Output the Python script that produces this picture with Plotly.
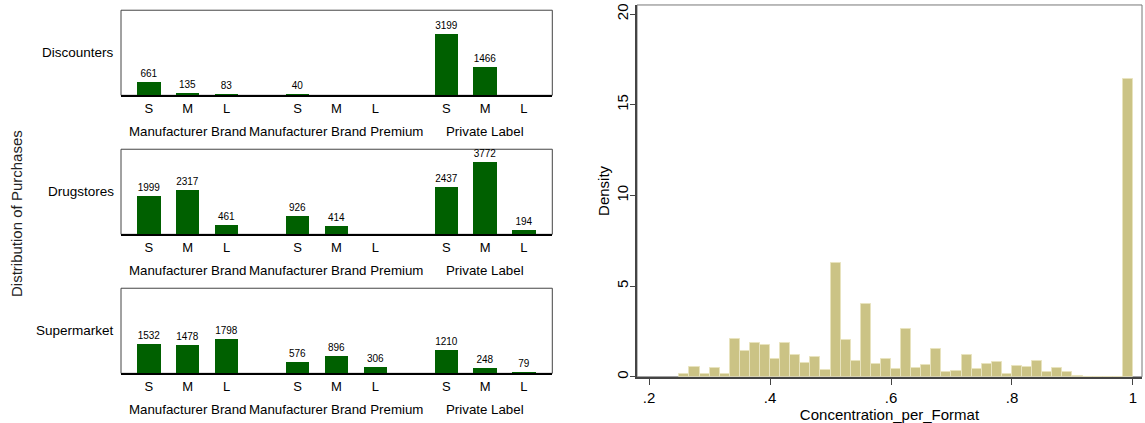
import plotly.graph_objects as go

# ---------------- data ----------------
formats = ["Discounters", "Drugstores", "Supermarket"]
brand_types = ["Manufacturer Brand", "Manufacturer Brand Premium", "Private Label"]
sizes = ["S", "M", "L"]

# values ordered brand type x size (S, M, L); None = no bar
discounters = [661, 135, 83, 40, None, None, 3199, 1466, None]
drugstores = [1999, 2317, 461, 926, 414, None, 2437, 3772, 194]
supermarket = [1532, 1478, 1798, 576, 896, 306, 1210, 248, 79]

density_bin_start = 0.25
density_bin_width = 1 / 60
density = [0.18, 0.57, 0.15, 0.49, 0.18, 2.10, 1.44, 1.84, 1.74, 0.97,
           1.84, 1.20, 0.77, 1.10, 0.38, 6.28, 2.05, 0.88, 4.00, 0.71,
           0.97, 0.42, 2.63, 0.47, 0.66, 1.53, 0.24, 0.33, 1.19, 0.42,
           0.73, 0.84, 0.13, 0.62, 0.55, 0.88, 0.27, 0.47, 0.24, 0.04,
           0, 0, 0, 0, 16.44]
hist_xticks = [0.2, 0.4, 0.6, 0.8, 1.0]
hist_xticktext = [".2", ".4", ".6", ".8", "1"]
hist_yticks = [0, 5, 10, 15, 20]

# ---------------- layout helpers ----------------
W, H = 1145, 423
FONT = "Liberation Sans, Arial, sans-serif"
GREEN = "#006000"
SAND = "#CBC385"
GROUP_STEP = 3.83


def px_x(p):
    return p / W


def px_y(p):
    return 1 - p / H


positions = [g * GROUP_STEP + s for g in range(len(brand_types)) for s in range(len(sizes))]
ticktexts = [sz for _ in brand_types for sz in sizes]
group_centers = [g * GROUP_STEP + 1 for g in range(len(brand_types))]

panel_rows = [(9.3, 95.0), (149.3, 235.0), (289.3, 375.0)]
panel_left, panel_right = 121.0, 552.3
series = [discounters, drugstores, supermarket]

fig = go.Figure()
shapes = []
annotations = []

for i, (vals, fmt, (top, bot)) in enumerate(zip(series, formats, panel_rows)):
    n = "" if i == 0 else str(i + 1)
    xa, ya = "x" + n, "y" + n
    fig.add_trace(go.Bar(
        x=positions, y=vals, width=0.6,
        marker=dict(color=GREEN, line=dict(width=0)),
        text=[("" if v is None else str(v)) for v in vals],
        textposition="outside", cliponaxis=False, constraintext="none",
        textfont=dict(family=FONT, size=10, color="#000"),
        xaxis=xa, yaxis=ya, showlegend=False, hoverinfo="skip",
    ))
    fig.layout["xaxis" + n] = dict(
        domain=[px_x(panel_left), px_x(panel_right)],
        range=[-0.72, 10.39], anchor=ya,
        tickvals=positions, ticktext=ticktexts, ticks="",
        tickfont=dict(family=FONT, size=13, color="#000"),
        showline=True, linecolor="#000", linewidth=2,
        showgrid=False, zeroline=False, fixedrange=True,
    )
    fig.layout["yaxis" + n] = dict(
        domain=[px_y(bot), px_y(top)], range=[0, 4450], anchor=xa,
        showticklabels=False, ticks="", showgrid=False, zeroline=False,
        showline=False, fixedrange=True,
    )
    shapes.append(dict(type="rect", xref=xa + " domain", yref=ya + " domain",
                       x0=0, x1=1, y0=0, y1=1, line=dict(color="#444", width=1),
                       layer="below"))
    annotations.append(dict(text=fmt, xref="paper", yref="paper",
                            x=px_x(116), y=px_y((top + bot) / 2),
                            xanchor="right", yanchor="middle", showarrow=False,
                            font=dict(family=FONT, size=13.5, color="#000")))
    for gc, bt in zip(group_centers, brand_types):
        annotations.append(dict(text=bt, xref=xa, yref="paper",
                                x=gc, y=px_y(bot + 36.5),
                                xanchor="center", yanchor="middle", showarrow=False,
                                font=dict(family=FONT, size=13.3, color="#000")))

annotations.append(dict(text="Distribution of Purchases", xref="paper", yref="paper",
                        x=px_x(17), y=px_y(214.5), textangle=-90,
                        xanchor="center", yanchor="middle", showarrow=False,
                        font=dict(family=FONT, size=15, color="#222")))

# ---------------- histogram ----------------
bin_lefts = [density_bin_start + k * density_bin_width for k in range(len(density))]
fig.add_trace(go.Bar(
    x=bin_lefts, y=density, width=density_bin_width, offset=0,
    marker=dict(color=SAND, line=dict(color="#E8E3BE", width=1)),
    xaxis="x4", yaxis="y4", showlegend=False, hoverinfo="skip",
))
hist_left, hist_right, hist_top, hist_bot = 637.0, 1142.0, 4.0, 378.5
fig.layout["xaxis4"] = dict(
    domain=[px_x(hist_left), px_x(hist_right)], range=[0.18, 1.015], anchor="y4",
    tickvals=hist_xticks, ticktext=hist_xticktext, ticks="outside", ticklen=6,
    tickcolor="#444", tickfont=dict(family=FONT, size=15, color="#000"),
    showline=True, linecolor="#444", linewidth=1.5,
    showgrid=False, zeroline=False, fixedrange=True,
    title=dict(text="Concentration_per_Format", standoff=0,
               font=dict(family=FONT, size=15, color="#000")),
)
fig.layout["yaxis4"] = dict(
    domain=[px_y(hist_bot), px_y(hist_top)], range=[0, 20.5], anchor="x4",
    tickvals=hist_yticks, ticks="outside", ticklen=5, tickangle=-90,
    ticklabelstandoff=-4,
    tickcolor="#444", tickfont=dict(family=FONT, size=15, color="#000"),
    showline=True, linecolor="#444", linewidth=1.5,
    showgrid=False, zeroline=False, fixedrange=True,
    title=dict(text="Density", standoff=1,
               font=dict(family=FONT, size=15, color="#000")),
)
shapes.append(dict(type="rect", xref="x4 domain", yref="y4 domain",
                   x0=0, x1=1, y0=0, y1=1, line=dict(color="#777", width=1),
                   layer="below"))

fig.update_layout(
    width=W, height=H, autosize=False,
    margin=dict(l=0, r=0, t=0, b=0, pad=0),
    paper_bgcolor="white", plot_bgcolor="white",
    bargap=0, shapes=shapes, annotations=annotations,
    font=dict(family=FONT),
)

fig.write_html("out.html",
               config={"displayModeBar": False},
               post_script="document.body.style.margin='0px';document.body.style.overflow='hidden';")
